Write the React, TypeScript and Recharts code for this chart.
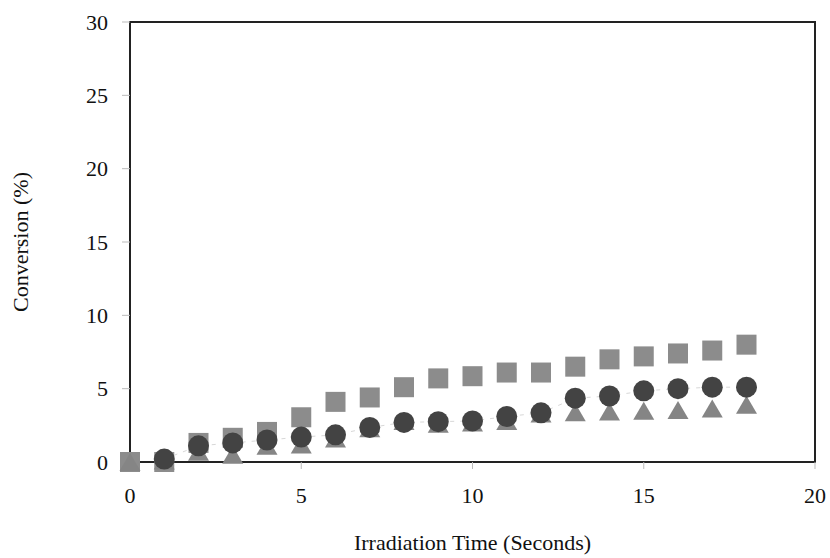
import {
  ReferenceArea,
  Scatter,
  ScatterChart,
  XAxis,
  YAxis,
} from 'recharts'

const TIME_SECONDS = [0, 1, 2, 3, 4, 5, 6, 7, 8, 9, 10, 11, 12, 13, 14, 15, 16, 17, 18]
const SQUARE_VALUES = [0, 0, 1.3, 1.65, 2.05, 3.05, 4.1, 4.4, 5.1, 5.7, 5.85, 6.1, 6.1, 6.5, 7.0, 7.2, 7.4, 7.6, 8.0]
const CIRCLE_VALUES = [null, 0.2, 1.1, 1.3, 1.5, 1.7, 1.85, 2.35, 2.7, 2.75, 2.8, 3.1, 3.35, 4.35, 4.5, 4.85, 5.0, 5.1, 5.1]
const TRIANGLE_VALUES = [0, 0.1, 0.7, 0.5, 1.1, 1.2, 1.6, 2.3, 2.8, 2.6, 2.7, 2.8, 3.3, 3.4, 3.45, 3.5, 3.55, 3.65, 3.9]

const X_TICKS = [0, 5, 10, 15, 20]
const Y_TICKS = [0, 5, 10, 15, 20, 25, 30]

const FONT = '"Liberation Serif", "Times New Roman", serif'

function toPoints(values: (number | null)[]) {
  return TIME_SECONDS.flatMap((t, i) =>
    values[i] === null ? [] : [{ t, v: values[i] as number }],
  )
}

const squareData = toPoints(SQUARE_VALUES)
const circleData = toPoints(CIRCLE_VALUES)
const triangleData = toPoints(TRIANGLE_VALUES)

const tickStyle = { fontFamily: FONT, fontSize: 22, fill: '#111' }

type ShapeProps = { cx?: number; cy?: number }

function SquareMark({ cx = 0, cy = 0 }: ShapeProps) {
  return <rect x={cx - 10} y={cy - 10} width={20} height={20} fill="#8c8c8c" />
}

function TriangleMark({ cx = 0, cy = 0 }: ShapeProps) {
  const h = 18
  const w = 21
  const points = `${cx},${cy - h / 2} ${cx + w / 2},${cy + h / 2} ${cx - w / 2},${cy + h / 2}`
  return <polygon points={points} fill="#858585" />
}

function CircleMark({ cx = 0, cy = 0 }: ShapeProps) {
  return <circle cx={cx} cy={cy} r={10.5} fill="#434343" />
}

export default function App() {
  return (
    <div style={{ position: 'absolute', left: 0, top: 0, background: '#fff' }}>
      <ScatterChart
        width={830}
        height={558}
        margin={{ top: 22, right: 15, left: 0, bottom: 36 }}
      >
        <XAxis
          dataKey="t"
          type="number"
          domain={[0, 20]}
          ticks={X_TICKS}
          tick={tickStyle}
          tickSize={7}
          tickMargin={18}
          tickLine={{ stroke: '#bbb' }}
          axisLine={{ stroke: '#222', strokeWidth: 2 }}
          height={60}
          label={{
            value: 'Irradiation Time (Seconds)',
            position: 'insideBottom',
            offset: -28,
            style: { fontFamily: FONT, fontSize: 22, fill: '#111' },
          }}
        />
        <YAxis
          dataKey="v"
          type="number"
          domain={[0, 30]}
          ticks={Y_TICKS}
          tick={tickStyle}
          tickSize={8}
          tickMargin={14}
          tickLine={{ stroke: '#bbb' }}
          axisLine={{ stroke: '#222', strokeWidth: 2 }}
          width={130}
          label={{
            value: 'Conversion (%)',
            angle: -90,
            position: 'insideLeft',
            offset: 20,
            style: { fontFamily: FONT, fontSize: 22, fill: '#111', textAnchor: 'middle' },
          }}
        />
        <ReferenceArea
          x1={0}
          x2={20}
          y1={0}
          y2={30}
          fill="none"
          stroke="#222"
          strokeWidth={2}
        />
        <Scatter
          data={squareData}
          shape={SquareMark}
          fill="#8c8c8c"
          isAnimationActive={false}
        />
        <Scatter
          data={triangleData}
          shape={TriangleMark}
          fill="#858585"
          isAnimationActive={false}
        />
        <Scatter
          data={circleData}
          shape={CircleMark}
          fill="#434343"
          line={{ stroke: '#d8d8d8', strokeWidth: 1, strokeDasharray: '4 6' }}
          isAnimationActive={false}
        />
      </ScatterChart>
    </div>
  )
}
